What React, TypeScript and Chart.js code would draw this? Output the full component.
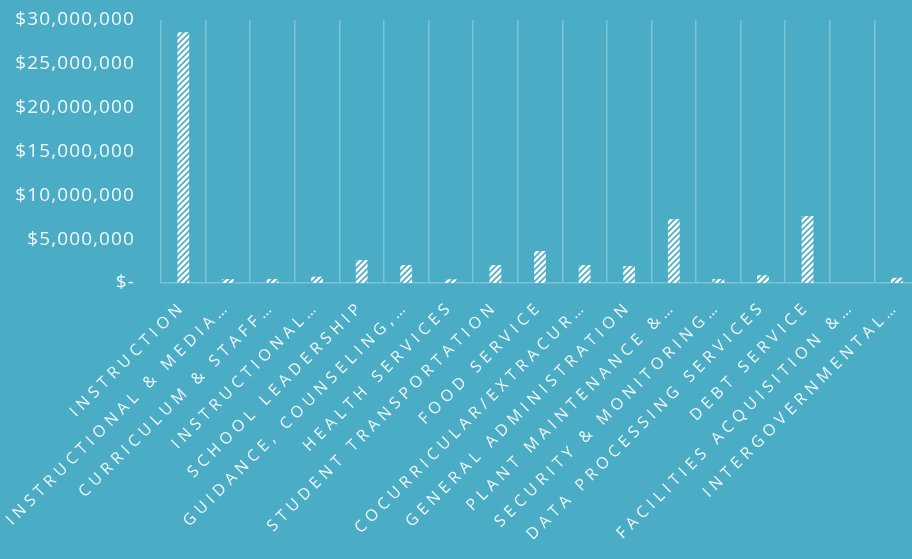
import React, { useEffect, useRef } from 'react';
import { Chart, registerables } from 'chart.js';

Chart.register(...registerables);

// Spending by function category (USD)
const categories: string[] = [
  'INSTRUCTION',
  'INSTRUCTIONAL & MEDIA…',
  'CURRICULUM & STAFF…',
  'INSTRUCTIONAL…',
  'SCHOOL LEADERSHIP',
  'GUIDANCE, COUNSELING,…',
  'HEALTH SERVICES',
  'STUDENT TRANSPORTATION',
  'FOOD SERVICE',
  'COCURRICULAR/EXTRACUR…',
  'GENERAL ADMINISTRATION',
  'PLANT MAINTENANCE &…',
  'SECURITY & MONITORING…',
  'DATA PROCESSING SERVICES',
  'DEBT SERVICE',
  'FACILITIES ACQUISITION &…',
  'INTERGOVERNMENTAL…',
];

const spending: number[] = [
  28600000, 450000, 450000, 720000, 2620000, 2050000, 420000, 2050000,
  3650000, 2050000, 1940000, 7300000, 450000, 880000, 7640000, 0, 600000,
];

const Y_MIN = 0;
const Y_MAX = 30000000;
const Y_STEP = 5000000;

const BG = '#4BACC6';
const GRID = 'rgba(255,255,255,0.28)';
const LABEL = 'rgba(255,255,255,0.92)';
const FONT = '"Open Sans", "Noto Sans", sans-serif';

const CANVAS_W = 920;
const CANVAS_H = 559;

// White fill with diagonal "/" stripes in the background colour
function makeHatch(): CanvasPattern | string {
  const size = 6;
  const c = document.createElement('canvas');
  c.width = size;
  c.height = size;
  const g = c.getContext('2d');
  if (!g) return '#ffffff';
  g.fillStyle = '#ffffff';
  g.fillRect(0, 0, size, size);
  g.strokeStyle = BG;
  g.lineWidth = 1.6;
  g.beginPath();
  g.moveTo(-1, size + 1);
  g.lineTo(size + 1, -1);
  g.moveTo(-1, 1);
  g.lineTo(1, -1);
  g.moveTo(size - 1, size + 1);
  g.lineTo(size + 1, size - 1);
  g.stroke();
  return g.createPattern(c, 'repeat') || '#ffffff';
}

function formatMoney(v: number): string {
  if (v === 0) return '$-';
  return '$' + v.toLocaleString('en-US');
}

// Wraps each axis' label drawing so it uses its own letter spacing
const letterSpacingPlugin = {
  id: 'axisLetterSpacing',
  beforeDraw(chart: any) {
    const spacing: Record<string, string> = { x: '4.8px', y: '1.1px' };
    Object.keys(spacing).forEach((id) => {
      const scale = chart.scales[id];
      if (!scale || scale.__spaced) return;
      const original = scale.drawLabels.bind(scale);
      scale.drawLabels = (area: any) => {
        const ctx = chart.ctx as any;
        const prev = ctx.letterSpacing;
        ctx.letterSpacing = spacing[id];
        original(area);
        ctx.letterSpacing = prev || '0px';
      };
      scale.__spaced = true;
    });
  },
};

export default function App() {
  const canvasRef = useRef<HTMLCanvasElement | null>(null);

  useEffect(() => {
    const canvas = canvasRef.current;
    if (!canvas) return;
    const hatch = makeHatch();
    const chart = new Chart(canvas, {
      type: 'bar',
      data: {
        labels: categories,
        datasets: [
          {
            data: spending,
            backgroundColor: hatch as any,
            borderWidth: 0,
            barPercentage: 0.33,
            categoryPercentage: 0.8,
          },
        ],
      },
      options: {
        responsive: false,
        maintainAspectRatio: false,
        animation: false,
        layout: { padding: { top: 20, right: 1, left: 0, bottom: 0 } },
        plugins: {
          legend: { display: false },
          tooltip: { enabled: false },
        },
        scales: {
          x: {
            offset: true,
            grid: {
              display: true,
              offset: true,
              color: GRID,
              lineWidth: 1.5,
              drawTicks: false,
            },
            border: { display: true, color: GRID, width: 1.5 },
            ticks: {
              autoSkip: false,
              minRotation: 45,
              maxRotation: 45,
              color: LABEL,
              padding: 14,
              font: { family: FONT, size: 16 },
            },
            afterFit: (s: any) => {
              s.height = CANVAS_H - 283;
              s.paddingLeft = 0;
              s.paddingRight = 0;
            },
          },
          y: {
            min: Y_MIN,
            max: Y_MAX,
            grid: { display: false, drawTicks: false },
            border: { display: false },
            ticks: {
              stepSize: Y_STEP,
              color: LABEL,
              padding: 26,
              font: { family: FONT, size: 19 },
              callback: (v: any) => formatMoney(Number(v)),
            },
            afterFit: (s: any) => {
              s.width = 161;
              s.paddingTop = 0;
              s.paddingBottom = 0;
            },
          },
        },
      },
      plugins: [letterSpacingPlugin],
    });
    return () => chart.destroy();
  }, []);

  return (
    <div
      style={{
        position: 'fixed',
        left: 0,
        top: 0,
        width: CANVAS_W,
        height: CANVAS_H,
        background: BG,
        overflow: 'hidden',
      }}
    >
      <canvas
        ref={canvasRef}
        width={CANVAS_W}
        height={CANVAS_H}
        style={{ width: CANVAS_W, height: CANVAS_H, display: 'block' }}
      />
    </div>
  );
}
